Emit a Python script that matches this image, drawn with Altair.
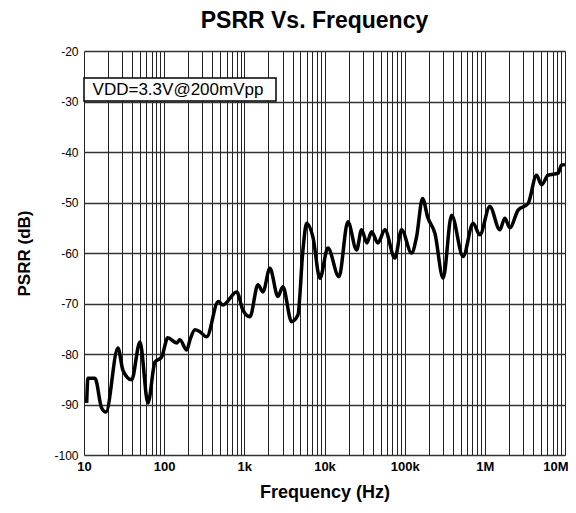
import altair as alt
import pandas as pd

# Frequency (Hz) and PSRR (dB)
freq_hz = [10.8, 11.2, 13.7, 16.6, 18.8, 26.5, 30.6, 39.3, 49.9, 62.8, 76.8, 93,
           111, 143, 157, 191, 210, 242, 279, 339, 473, 541, 802, 961, 1175, 1479,
           1706, 2085, 2624, 3027, 3888, 4659, 5383, 5986, 7166, 8765, 11030, 15130,
           19590, 25140, 29020, 33800, 38660, 46340, 56640, 75500, 91500, 121900,
           140700, 167100, 194500, 238300, 302000, 384600, 536000, 714000, 866000,
           1154000, 1538000, 1775000, 2050000, 2602000, 3466000, 4414000, 5097000,
           6156000, 8204000, 9036000, 10000000]
psrr_db = [-89.7, -84.8, -84.8, -90.7, -91.5, -78.8, -83.2, -85.1, -77.6, -89.7, -81.6, -80.6,
           -76.8, -77.8, -77.2, -79.2, -77.2, -75.2, -75.6, -76.6, -69.6, -70.3, -67.7, -71.3, -72.6, -66.3,
           -67.7, -63.0, -68.6, -66.7, -73.6, -72.3, -59.4, -54.1, -56.8, -65.0, -59.0, -64.7,
           -53.8, -59.4, -55.4, -58.0, -55.8, -58.0, -55.4, -61.0, -55.4, -60.0,
           -56.8, -49.2, -53.0, -56.1, -65.0, -52.5, -60.7, -54.1, -56.4,
           -50.8, -55.4, -53.1, -55.0, -51.5, -50.2, -44.6, -46.5,
           -44.6, -44.2, -42.6, -42.5]

decade_values = [10, 100, 1000, 10000, 100000, 1000000, 10000000]
decade_labels = ["10", "100", "1k", "10k", "100k", "1M", "10M"]
y_ticks = [-100, -90, -80, -70, -60, -50, -40, -30, -20]
annotation = "VDD=3.3V@200mVpp"

minor_values = sorted(set([d * 10 ** k for k in range(1, 7) for d in range(1, 10)] + [10 ** 7]))

label_expr = " : ".join(
    [f"datum.value == {v} ? '{l}'" for v, l in zip(decade_values, decade_labels)]
) + " : ''"
last_test = f"datum.value == {decade_values[-1]}"

df = pd.DataFrame({"f": freq_hz, "db": psrr_db})

FONT = "Liberation Sans"

line = alt.Chart(df).mark_line(
    color="black", strokeWidth=3.5, interpolate="monotone"
).encode(
    x=alt.X("f:Q", scale=alt.Scale(type="log", domain=[10, 10000000], nice=False),
            axis=alt.Axis(values=minor_values, labelExpr=label_expr, title="Frequency (Hz)",
                          grid=True, gridColor="#222", gridWidth=1, ticks=False, domain=False,
                          labelFont=FONT, labelFontSize=13, labelFontWeight="bold",
                          labelColor="black", labelPadding=5, labelOverlap=False,
                          labelFlush=False,
                          labelAlign={"condition": {"test": last_test, "value": "right"},
                                      "value": "center"},
                          labelOffset={"condition": {"test": last_test, "value": 3},
                                       "value": 0},
                          titleFont=FONT, titleFontSize=18, titleFontWeight="bold",
                          titleColor="black", titlePadding=10)),
    y=alt.Y("db:Q", scale=alt.Scale(domain=[-100, -20], nice=False, zero=False),
            axis=alt.Axis(values=y_ticks, title="PSRR (dB)", grid=True, gridColor="#333",
                          gridWidth=1.5, ticks=False, domain=False,
                          labelExpr="'' + datum.value",
                          labelFont=FONT, labelFontSize=12, labelColor="black",
                          labelPadding=6,
                          titleFont=FONT, titleFontSize=17, titleFontWeight="bold",
                          titleColor="black", titlePadding=20)),
)

ann_df = pd.DataFrame({"t": [annotation]})
box = alt.Chart(ann_df).mark_rect(fill="white", stroke="black", strokeWidth=1.5).encode(
    x=alt.value(0), x2=alt.value(192), y=alt.value(27), y2=alt.value(50)
)
txt = alt.Chart(ann_df).mark_text(font=FONT, fontSize=17, color="black", align="center",
                                  baseline="middle").encode(
    x=alt.value(94), y=alt.value(39), text="t:N"
)

chart = alt.layer(line, box, txt).properties(
    width=481, height=404,
    title=alt.TitleParams("PSRR Vs. Frequency", font=FONT, fontSize=23, fontWeight="bold",
                          color="black", anchor="middle", offset=12, dx=-10),
    autosize=alt.AutoSizeParams(type="none"),
    padding={"left": 76, "top": 43, "right": 3, "bottom": 50},
).configure_view(stroke="black", strokeWidth=3).configure(background="white")

chart.save("out.html", embed_options={"renderer": "svg", "actions": False})
